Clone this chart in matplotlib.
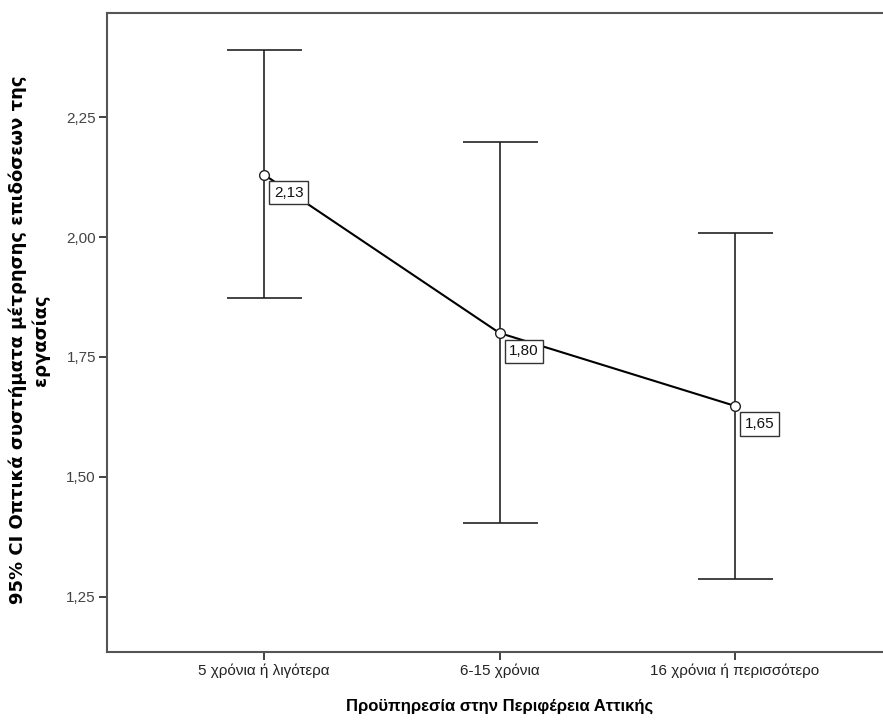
import matplotlib
matplotlib.use('Agg')
import matplotlib.pyplot as plt
import numpy as np

plt.rcParams['font.family'] = ['Liberation Sans', 'DejaVu Sans']

categories = ['5 χρόνια ή λιγότερα', '6-15 χρόνια', '16 χρόνια ή περισσότερο']
means = [2.13, 1.80, 1.648]
ci_low = [1.873, 1.404, 1.2875]
ci_high = [2.390, 2.198, 2.008]
yticks = [1.25, 1.50, 1.75, 2.00, 2.25]

fig = plt.figure(figsize=(8.83, 7.2), dpi=100)
ax = fig.add_axes([107/883, 1-652/720, (892-107)/883, (652-13)/720])

x = np.arange(len(categories))
means = np.array(means)
err = [means - np.array(ci_low), np.array(ci_high) - means]

ax.errorbar(x, means, yerr=err, fmt='none', ecolor='#222222', elinewidth=1.2,
            capsize=27, capthick=1.2)
ax.plot(x, means, color='black', lw=1.5, marker='o', ms=7, mfc='white',
        mec='#222222', mew=1.0, zorder=3)

for xi, m in zip(x, means):
    ax.annotate(('%.2f' % m).replace('.', ','), (xi, m), xytext=(7, -8),
                textcoords='offset points', ha='left', va='top', fontsize=11,
                color='#111111', zorder=4,
                bbox=dict(boxstyle='square,pad=0.3', fc='white', ec='#333333', lw=1.0))

ax.set_xlim(-0.667, 2.667)
ax.set_ylim(1.135, 2.467)
ax.set_xticks(x)
ax.set_xticklabels(categories, fontsize=11, color='#222222')
ax.set_yticks(yticks)
ax.set_yticklabels([('%.2f' % t).replace('.', ',') for t in yticks],
                   fontsize=11, color='#444444')
ax.tick_params(direction='out', length=6, width=1.2, color='#222222', pad=2)

for s in ax.spines.values():
    s.set_color('#555555')
    s.set_linewidth(1.5)

# y label placed by hand, SPSS puts it far left
fig.text(29/883, 1-340/720,
         '95% CI Οπτικά συστήματα μέτρησης επιδόσεων της\nεργασίας',
         rotation=90, ha='center', va='center', fontsize=13, fontweight='bold',
         family='DejaVu Sans', linespacing=1.3, multialignment='center')
ax.set_xlabel('Προϋπηρεσία στην Περιφέρεια Αττικής', fontsize=12,
              fontweight='bold', labelpad=15)

fig.savefig('out.png', dpi=100)
